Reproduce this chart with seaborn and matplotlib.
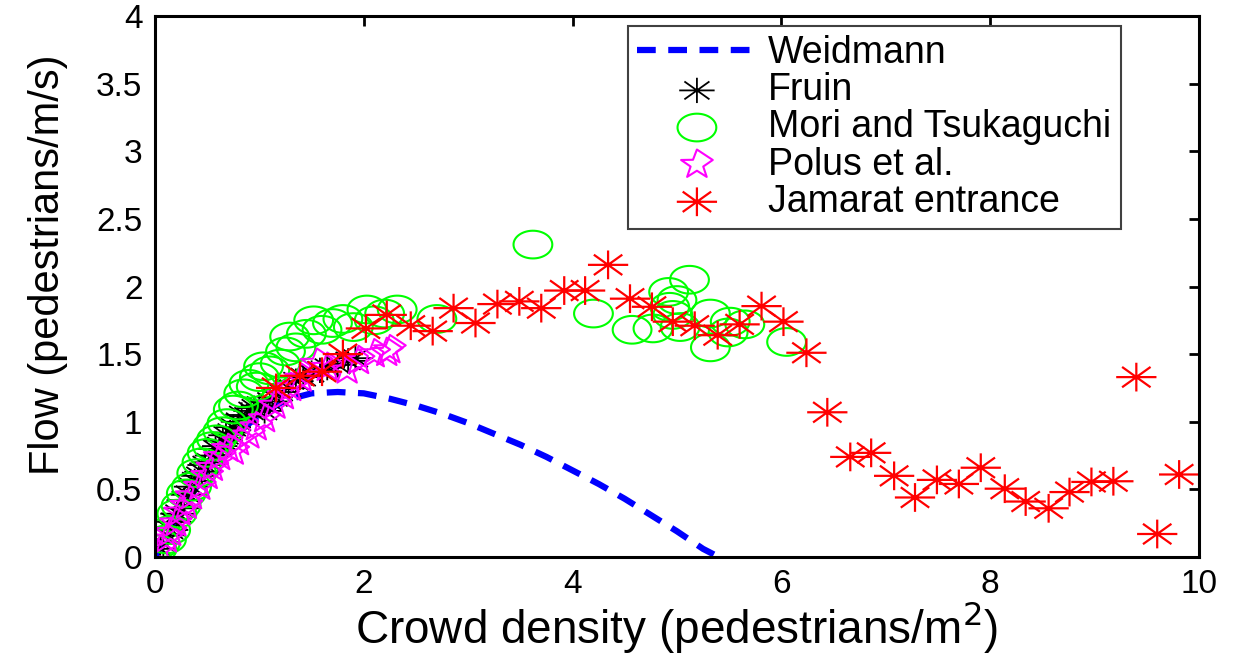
import numpy as np
import matplotlib.pyplot as plt
import seaborn as sns
from matplotlib.path import Path

sns.set_style("white")
plt.rcParams['font.family'] = ['Liberation Sans', 'DejaVu Sans']
plt.rcParams['text.color'] = 'black'
plt.rcParams['axes.labelcolor'] = 'black'

# Weidmann fundamental diagram
weid_x = [0, 0.25, 0.5, 0.75, 1.0, 1.25, 1.5, 1.75, 2.0, 2.25, 2.5, 2.75, 3.0,
          3.25, 3.5, 3.75, 4.0, 4.25, 4.5, 4.75, 5.0, 5.25, 5.4]
weid_y = [0, 0.33, 0.65, 0.89, 1.05, 1.16, 1.21, 1.22, 1.21, 1.17, 1.12, 1.06, 0.99,
          0.91, 0.83, 0.74, 0.64, 0.54, 0.43, 0.31, 0.19, 0.06, 0]

fruin_x = [0.05, 0.08, 0.12, 0.15, 0.18, 0.22, 0.25, 0.28, 0.32, 0.35, 0.38, 0.42, 0.45, 0.48,
           0.52, 0.55, 0.58, 0.62, 0.65, 0.68, 0.72, 0.75, 0.8, 0.83, 0.88, 0.92, 0.95, 1.0,
           1.05, 1.1, 1.15, 1.2, 1.28, 1.35, 1.42, 1.5, 1.58, 1.65, 1.75, 1.85, 1.92]
fruin_y = [0.06, 0.1, 0.16, 0.2, 0.26, 0.32, 0.36, 0.42, 0.46, 0.52, 0.56, 0.6, 0.63, 0.68,
           0.7, 0.75, 0.8, 0.82, 0.86, 0.9, 0.92, 0.96, 1.0, 1.05, 1.04, 1.08, 1.1, 1.12,
           1.08, 1.15, 1.18, 1.22, 1.25, 1.3, 1.33, 1.36, 1.38, 1.4, 1.42, 1.45, 1.47]

mori_x = [0.02, 0.05, 0.11, 0.15, 0.21, 0.25, 0.30, 0.35, 0.40, 0.45, 0.50, 0.55, 0.59, 0.65,
          0.69, 0.75, 0.80, 0.85, 0.90, 0.97, 1.00, 1.04, 1.10, 1.20, 1.25, 1.29, 1.35, 1.45,
          1.52, 1.60, 1.70, 1.80, 1.90, 2.03, 2.10, 2.20, 2.32, 2.70, 3.62, 4.20, 4.57, 4.77,
          4.92, 4.93, 4.96, 5.00, 5.03, 5.12, 5.32, 5.32, 5.49, 5.51, 5.65, 6.05]
mori_y = [0.06, 0.10, 0.13, 0.20, 0.32, 0.38, 0.47, 0.52, 0.62, 0.70, 0.77, 0.82, 0.87, 0.93,
          0.99, 1.09, 1.12, 1.21, 1.28, 1.26, 1.33, 1.41, 1.38, 1.43, 1.52, 1.63, 1.55, 1.65,
          1.75, 1.68, 1.73, 1.76, 1.70, 1.83, 1.75, 1.80, 1.83, 1.76, 2.31, 1.80, 1.68, 1.69,
          1.96, 1.85, 1.79, 1.90, 1.70, 2.05, 1.80, 1.55, 1.66, 1.74, 1.72, 1.59]

polus_x = [0.05, 0.11, 0.15, 0.20, 0.24, 0.30, 0.35, 0.43, 0.50, 0.55, 0.62, 0.70, 0.75, 0.80,
           0.90, 0.97, 1.05, 1.15, 1.23, 1.30, 1.40, 1.55, 1.65, 1.84, 1.95, 2.10, 2.22, 2.25]
polus_y = [0.05, 0.13, 0.18, 0.25, 0.33, 0.38, 0.45, 0.52, 0.60, 0.66, 0.74, 0.80, 0.78, 0.85,
           0.90, 0.96, 1.02, 1.12, 1.19, 1.25, 1.32, 1.43, 1.40, 1.38, 1.45, 1.50, 1.51, 1.53]

jam_x = [1.16, 1.39, 1.60, 1.80, 2.02, 2.22, 2.45, 2.66, 2.86, 3.07, 3.28, 3.49, 3.70, 3.92,
         4.12, 4.34, 4.55, 4.76, 4.96, 5.17, 5.39, 5.60, 5.81, 6.02, 6.24, 6.44, 6.66, 6.86,
         7.08, 7.28, 7.49, 7.70, 7.91, 8.14, 8.34, 8.56, 8.76, 8.97, 9.18, 9.40, 9.60, 9.81]
jam_y = [1.25, 1.34, 1.37, 1.50, 1.69, 1.79, 1.71, 1.67, 1.84, 1.73, 1.87, 1.89, 1.84, 1.97,
         1.97, 2.16, 1.91, 1.85, 1.74, 1.71, 1.64, 1.72, 1.855, 1.74, 1.51, 1.07, 0.74, 0.77,
         0.60, 0.44, 0.57, 0.54, 0.66, 0.505, 0.41, 0.36, 0.48, 0.555, 0.56, 1.33, 0.17, 0.61]

x_ticks = [0, 2, 4, 6, 8, 10]
y_ticks = [0, 0.5, 1, 1.5, 2, 2.5, 3, 3.5, 4]
y_tick_labels = ["0", "0.5", "1", "1.5", "2", "2.5", "3", "3.5", "4"]

# markers, slightly wider than tall like in the original picture
sx = 1.4
t = np.linspace(0, 2 * np.pi, 60)
ellipse = Path(np.column_stack([sx * np.cos(t), np.sin(t)]), closed=True)
d = 0.707
ast_verts = [(-sx, 0), (sx, 0), (0, -1), (0, 1),
             (-sx * d, -d), (sx * d, d), (-sx * d, d), (sx * d, -d)]
ast_codes = [Path.MOVETO, Path.LINETO] * 4
asterisk = Path(ast_verts, ast_codes)
ang = np.pi / 2 + np.arange(10) * np.pi / 5
rad = np.where(np.arange(10) % 2 == 0, 1.0, 0.4)
star = Path(np.column_stack([1.1 * rad * np.cos(ang), rad * np.sin(ang)]), closed=True)

fig = plt.figure(figsize=(12.33, 6.59), dpi=100)
ax = fig.add_axes([0.1257, 0.1548, 0.8467, 0.8209])

sns.lineplot(x=weid_x, y=weid_y, ax=ax, color='blue', lw=4.5, zorder=1,
             linestyle=(0, (3.0, 2.0)), label='Weidmann', sort=False)
sns.scatterplot(x=fruin_x, y=fruin_y, ax=ax, marker=asterisk, s=650, zorder=3,
                facecolor='none', edgecolor='black', linewidth=1.3, label='Fruin')
sns.scatterplot(x=mori_x, y=mori_y, ax=ax, marker=ellipse, s=780, zorder=3,
                facecolor='none', edgecolor='#00ff00', linewidth=1.5,
                label='Mori and Tsukaguchi')
sns.scatterplot(x=polus_x, y=polus_y, ax=ax, marker=star, s=520, zorder=3,
                facecolor='none', edgecolor='#ff00ff', linewidth=1.5, label='Polus et al.')
sns.scatterplot(x=jam_x, y=jam_y, ax=ax, marker=asterisk, s=840, zorder=3,
                facecolor='none', edgecolor='red', linewidth=1.6, label='Jamarat entrance')

ax.set_xlim(0, 10)
ax.set_ylim(0, 4)
ax.set_xticks(x_ticks)
ax.set_xticklabels([str(v) for v in x_ticks])
ax.set_yticks(y_ticks)
ax.set_yticklabels(y_tick_labels)
ax.tick_params(direction='in', length=7, width=2, top=True, right=True,
               labelsize=24, pad=9, colors='black')
for sp in ax.spines.values():
    sp.set_visible(True)
    sp.set_color('black')
    sp.set_linewidth(2.2)
    sp.set_zorder(4)

ax.set_xlabel("Crowd density (pedestrians/m$^2$)", fontsize=33)
ax.xaxis.set_label_coords(0.5, -0.078)
ax.set_ylabel("Flow (pedestrians/m/s)", fontsize=30)
ax.yaxis.set_label_coords(-0.083, 0.54)

handles, labels = ax.get_legend_handles_labels()
leg = ax.legend(handles, labels, loc='upper right', bbox_to_anchor=(0.925, 0.982),
                fontsize=27, frameon=True, fancybox=False, edgecolor='#404040',
                framealpha=1, borderpad=0.25, labelspacing=0.03, handlelength=3.2,
                handletextpad=0.3, borderaxespad=0, scatterpoints=1)
leg.get_frame().set_linewidth(1.5)
leg.set_zorder(5)

fig.savefig("out.png", dpi=100)
